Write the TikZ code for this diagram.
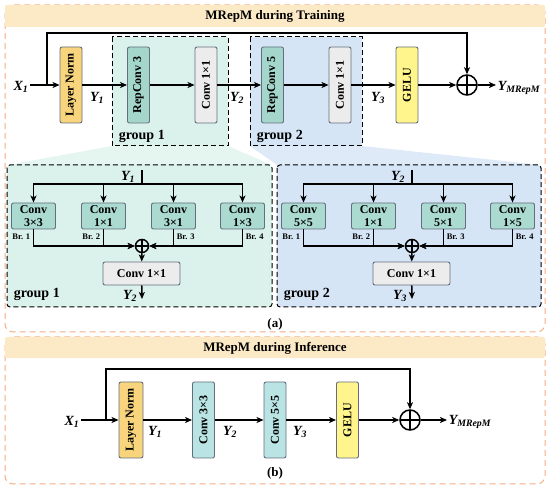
\documentclass[tikz,border=0pt]{standalone}
\usepackage{fontspec}
\setmainfont{Liberation Serif}
\usetikzlibrary{arrows.meta}

\definecolor{bandcol}{RGB}{252,234,199}
\definecolor{framecol}{RGB}{245,172,132}
\definecolor{grponecol}{RGB}{218,242,235}
\definecolor{grptwocol}{RGB}{214,229,246}
\definecolor{normcol}{RGB}{248,213,125}
\definecolor{repcol}{RGB}{164,214,203}
\definecolor{brcol}{RGB}{170,218,208}
\definecolor{onecol}{RGB}{236,236,236}
\definecolor{gelucol}{RGB}{255,245,140}
\definecolor{infcol}{RGB}{186,228,228}
\definecolor{edgecol}{RGB}{100,110,125}

\newcommand{\ylab}[2]{{\bfseries\itshape #1\textsubscript{#2}}}

\tikzset{
  >={Stealth[length=7pt,width=6pt,inset=1.8pt]},
  vbox/.style={draw=edgecol, rounded corners=2pt, rotate=90, minimum width=76pt, minimum height=22pt,
    inner sep=0pt, line width=0.9pt, font=\bfseries\fontsize{12}{12}\selectfont},
  brbox/.style={draw=edgecol, fill=brcol, rounded corners=2pt, minimum width=44pt, minimum height=26pt,
    inner sep=0pt, align=center, line width=0.9pt, font=\bfseries\fontsize{12}{12.5}\selectfont},
  onebox/.style={draw=edgecol, fill=onecol, rounded corners=2pt, minimum width=77pt, minimum height=23pt,
    inner sep=0pt, line width=0.9pt, font=\bfseries\fontsize{12}{12}\selectfont},
  sumnode/.style={circle, draw, minimum size=#1, inner sep=0pt,
    path picture={\draw (path picture bounding box.north) -- (path picture bounding box.south)
      (path picture bounding box.west) -- (path picture bounding box.east);}},
  vlab/.style={font=\fontsize{14}{14}\selectfont, inner sep=1pt},
  grplab/.style={font=\bfseries\fontsize{14}{14}\selectfont, anchor=west, inner sep=0pt},
  brlab/.style={font=\bfseries\fontsize{8.5}{9}\selectfont, inner sep=0pt},
  paneltitle/.style={font=\bfseries\fontsize{13}{13}\selectfont},
  panelframe/.style={draw=framecol, dash pattern=on 6pt off 4pt, line width=1pt, rounded corners=8pt},
  grpframe/.style={dash pattern=on 5pt off 3pt, line width=1pt},
}

\begin{document}
\begin{tikzpicture}[x=1pt, y=-1pt, line width=1.5pt]
\useasboundingbox (0,0) rectangle (550,489);

% (a) training
\draw[panelframe] (5,5) rectangle (545,332);
\fill[bandcol, rounded corners=2pt] (5,5) rectangle (545,27);
\node[paneltitle] (ttrain) at (275,16) {MRepM during Training};

% zoom wedges
\fill[grponecol!70] (112,146) -- (228,146) -- (272,165) -- (7,165) -- cycle;
\fill[grptwocol!80] (250,146) -- (362,146) -- (541,165) -- (277,165) -- cycle;

\draw[grpframe, fill=grponecol] (112,37) rectangle (228,146);
\draw[grpframe, fill=grptwocol] (250,37) rectangle (362,146);
\node[grplab] (gl1) at (118,136) {group 1};
\node[grplab] (gl2) at (256,136) {group 2};

\node[vlab] (x1) at (21,87) {\ylab{X}{1}};
\node[vbox, fill=normcol] (ln1) at (71,85) {Layer Norm};
\node[vbox, fill=repcol] (rc3) at (138.5,85) {RepConv 3};
\node[vbox, fill=onecol] (cv1) at (206,85) {Conv 1×1};
\node[vbox, fill=repcol] (rc5) at (272.5,85) {RepConv 5};
\node[vbox, fill=onecol] (cv2) at (340,85) {Conv 1×1};
\node[vbox, fill=gelucol] (ge1) at (407,85) {GELU};
\node[sumnode=20pt] (pl1) at (467,85) {};
\node[vlab, anchor=west] (ym1) at (496,88) {\ylab{Y}{MRepM}};
\node[vlab] (ya1) at (97,98) {\ylab{Y}{1}};
\node[vlab] (ya2) at (237,98) {\ylab{Y}{2}};
\node[vlab] (ya3) at (378,98) {\ylab{Y}{3}};
\coordinate (k1) at (47,85);

\draw[->] (x1.east |- ln1) -- (ln1);
\draw[->] (k1) -- ++(0,-52) -| (pl1);
\draw[->] (ln1) -- (rc3);
\draw[->] (rc3) -- (cv1);
\draw[->] (cv1) -- (rc5);
\draw[->] (rc5) -- (cv2);
\draw[->] (cv2) -- (ge1);
\draw[->] (ge1) -- (pl1);
\draw[->] (pl1) -- (pl1 -| ym1.west);

% group 1 in detail
\draw[grpframe, fill=grponecol, rounded corners=3pt] (7,165) rectangle (272,307);
\node[grplab] (gl3) at (13,294) {group 1};
\node[vlab] (yd1) at (128,177) {\ylab{Y}{1}};
\coordinate (t1) at (142,170);
\coordinate (f1) at (142,184);
\node[brbox] (a1) at (33.5,216) {Conv\\3×3};
\node[brbox] (b1) at (103.5,216) {Conv\\1×1};
\node[brbox] (c1) at (173.5,216) {Conv\\3×1};
\node[brbox] (d1) at (242.5,216) {Conv\\1×3};
\node[brlab, anchor=east] (bra1) at (31,237) {Br. 1};
\node[brlab, anchor=east] (brb1) at (101,237) {Br. 2};
\node[brlab, anchor=west] (brc1) at (176,237) {Br. 3};
\node[brlab, anchor=west] (brd1) at (245,237) {Br. 4};
\node[sumnode=13pt] (s1) at (142,246) {};
\node[onebox] (e1) at (141.5,273.5) {Conv 1×1};
\coordinate (o1) at (142,299);
\node[vlab] (yd2) at (130,296) {\ylab{Y}{2}};

\draw (t1) -- (f1);
\draw[->] (f1) -| (a1);
\draw[->] (f1) -| (b1);
\draw[->] (f1) -| (c1);
\draw[->] (f1) -| (d1);
\draw[->] (a1) |- (s1);
\draw[->] (b1) |- (s1);
\draw[->] (c1) |- (s1);
\draw[->] (d1) |- (s1);
\draw[->] (s1) -- (e1);
\draw[->] (e1) -- (o1);

% group 2 in detail
\draw[grpframe, fill=grptwocol, rounded corners=3pt] (277,165) rectangle (541,307);
\node[grplab] (gl4) at (283,294) {group 2};
\node[vlab] (yd3) at (398,177) {\ylab{Y}{2}};
\coordinate (t2) at (412,170);
\coordinate (f2) at (412,184);
\node[brbox] (a2) at (303.5,216) {Conv\\5×5};
\node[brbox] (b2) at (373.5,216) {Conv\\1×1};
\node[brbox] (c2) at (443.5,216) {Conv\\5×1};
\node[brbox] (d2) at (512.5,216) {Conv\\1×5};
\node[brlab, anchor=east] (bra2) at (301,237) {Br. 1};
\node[brlab, anchor=east] (brb2) at (371,237) {Br. 2};
\node[brlab, anchor=west] (brc2) at (446,237) {Br. 3};
\node[brlab, anchor=west] (brd2) at (515,237) {Br. 4};
\node[sumnode=13pt] (s2) at (412,246) {};
\node[onebox] (e2) at (411.5,273.5) {Conv 1×1};
\coordinate (o2) at (412,299);
\node[vlab] (yd4) at (400,296) {\ylab{Y}{3}};

\draw (t2) -- (f2);
\draw[->] (f2) -| (a2);
\draw[->] (f2) -| (b2);
\draw[->] (f2) -| (c2);
\draw[->] (f2) -| (d2);
\draw[->] (a2) |- (s2);
\draw[->] (b2) |- (s2);
\draw[->] (c2) |- (s2);
\draw[->] (d2) |- (s2);
\draw[->] (s2) -- (e2);
\draw[->] (e2) -- (o2);

\node[paneltitle] (cap1) at (275,324) {(a)};

% (b) inference
\draw[panelframe] (5,337) rectangle (545,484);
\fill[bandcol, rounded corners=2pt] (5,337) rectangle (545,358);
\node[paneltitle] (tinf) at (275,348) {MRepM during Inference};

\node[vlab] (x2) at (72,422) {\ylab{X}{1}};
\node[vbox, fill=normcol, minimum height=24pt] (ln2) at (131,420) {Layer Norm};
\node[vbox, fill=infcol] (c33) at (203.5,420) {Conv 3×3};
\node[vbox, fill=infcol] (c55) at (275,420) {Conv 5×5};
\node[vbox, fill=gelucol] (ge2) at (347.5,420) {GELU};
\node[sumnode=20pt] (pl2) at (410,420) {};
\node[vlab, anchor=west] (ym2) at (447,422) {\ylab{Y}{MRepM}};
\node[vlab] (yb1) at (155,432) {\ylab{Y}{1}};
\node[vlab] (yb2) at (230,432) {\ylab{Y}{2}};
\node[vlab] (yb3) at (300,432) {\ylab{Y}{3}};
\coordinate (k2) at (106,420);

\draw[->] (x2.east |- ln2) -- (ln2);
\draw[->] (k2) -- ++(0,-51) -| (pl2);
\draw[->] (ln2) -- (c33);
\draw[->] (c33) -- (c55);
\draw[->] (c55) -- (ge2);
\draw[->] (ge2) -- (pl2);
\draw[->] (pl2) -- (pl2 -| ym2.west);

\node[paneltitle] (cap2) at (275,473) {(b)};
\end{tikzpicture}
\end{document}
